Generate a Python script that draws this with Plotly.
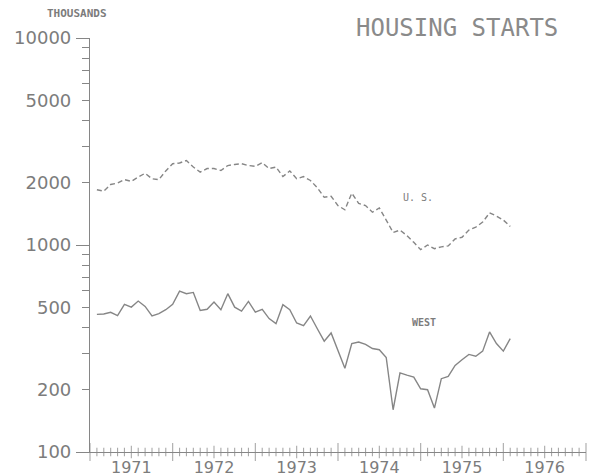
import plotly.graph_objects as go

# Monthly housing starts, seasonally adjusted annual rate (thousands), Jan 1971 - Jan 1976
MONTHS = [f"{1971 + i // 12}-{i % 12 + 1:02d}" for i in range(61)]

US_STARTS = [
    1850, 1820, 1960, 1990, 2070, 2030, 2130, 2220, 2090, 2070, 2280, 2470,
    2490, 2560, 2380, 2250, 2340, 2340, 2290, 2420, 2450, 2470, 2420, 2400,
    2500, 2340, 2380, 2140, 2280, 2090, 2140, 2050, 1890, 1700, 1720, 1550,
    1480, 1780, 1590, 1550, 1440, 1510, 1320, 1150, 1180, 1110, 1030, 950,
    1000, 960, 980, 990, 1070, 1090, 1180, 1220, 1290, 1430, 1380, 1320,
    1230,
]

WEST_STARTS = [
    462, 464, 473, 456, 517, 501, 536, 505, 454, 466, 487, 517,
    599, 582, 590, 483, 489, 530, 487, 582, 501, 479, 534, 474,
    489, 441, 417, 515, 487, 420, 408, 454, 394, 343, 376, 310,
    254, 334, 340, 331, 316, 312, 286, 160, 241, 235, 230, 202,
    200, 163, 226, 232, 262, 279, 296, 290, 307, 380, 334, 307,
    353,
]

YEARS = [1971, 1972, 1973, 1974, 1975, 1976]
Y_MAJOR = [100, 200, 500, 1000, 2000, 5000, 10000]
Y_MINOR = [300, 400, 600, 700, 800, 900, 3000, 4000, 6000, 7000, 8000, 9000]
Y_DECADES = [100, 1000, 10000]

INK = "#868686"
TEXT = "#7c7c7c"

# each month is plotted at the end of its own interval on a decimal-year axis
xpos = [int(m[:4]) + int(m[5:]) / 12 for m in MONTHS]

x_lo, x_hi = YEARS[0], YEARS[-1] + 1
n_months = 12 * (x_hi - x_lo)
half_years = [x_lo + h / 2 for h in range(2 * (x_hi - x_lo) + 1)]
half_text = [str(int(v)) if h % 2 == 1 else "" for h, v in enumerate(half_years)]

# time-axis tick marks cross the axis line: long at years, medium at half years,
# short at every month
tick_x, tick_size = [], []
for m in range(n_months + 1):
    tick_x.append(x_lo + m / 12)
    tick_size.append(13 if m % 12 == 0 else (9 if m % 6 == 0 else 6))

fig = go.Figure()

fig.add_trace(go.Scatter(
    x=xpos, y=US_STARTS, mode="lines", name="U. S.",
    line=dict(color=INK, width=1.4, dash="5px,3px"),
))
fig.add_trace(go.Scatter(
    x=xpos, y=WEST_STARTS, mode="lines", name="WEST",
    line=dict(color=INK, width=1.4),
))
fig.add_trace(go.Scatter(
    x=tick_x, y=[Y_MAJOR[0]] * len(tick_x), mode="markers",
    marker=dict(symbol="line-ns", size=tick_size,
                line=dict(color=INK, width=1.1)),
    cliponaxis=False, hoverinfo="skip", showlegend=False,
))

# empty trace so the overlaid decade-tick axis is drawn
fig.add_trace(go.Scatter(x=[None], y=[None], xaxis="x", yaxis="y2",
                         showlegend=False, hoverinfo="skip"))

tick_font_x = dict(family="DejaVu Sans", size=16, color=TEXT)
tick_font_y = dict(family="DejaVu Sans", size=18, color=TEXT)

fig.update_layout(
    width=590, height=476,
    margin=dict(l=90, r=4, t=38, b=24, autoexpand=False),
    paper_bgcolor="white", plot_bgcolor="white",
    showlegend=False,
    xaxis=dict(
        range=[x_lo, x_hi], fixedrange=True, automargin=False,
        showgrid=False, zeroline=False,
        showline=True, linecolor=INK, linewidth=1.2,
        tickmode="array", tickvals=half_years, ticktext=half_text,
        ticks="", ticklabelstandoff=1,
        tickfont=tick_font_x,
    ),
    yaxis=dict(
        type="log", range=[2, 4], fixedrange=True, automargin=False,
        showgrid=False, zeroline=False,
        showline=True, linecolor=INK, linewidth=1.2,
        tickmode="array", tickvals=Y_MAJOR, ticktext=[str(v) for v in Y_MAJOR],
        ticks="outside", ticklen=7, tickcolor=INK, tickwidth=1.2,
        ticklabelstandoff=7,
        tickfont=tick_font_y,
        minor=dict(tickmode="array", tickvals=Y_MINOR,
                   ticks="outside", ticklen=7, tickcolor=INK, tickwidth=1),
    ),
    yaxis2=dict(
        type="log", range=[2, 4], fixedrange=True, automargin=False,
        overlaying="y", anchor="x", side="left",
        showgrid=False, zeroline=False, showline=False, showticklabels=False,
        tickmode="array", tickvals=Y_DECADES,
        ticks="outside", ticklen=13, tickcolor=INK, tickwidth=1.2,
    ),
)

annotations = [
    dict(text="HOUSING STARTS", x=0.739, y=1.024, xref="paper", yref="paper",
         xanchor="center", yanchor="middle", showarrow=False,
         font=dict(family="DejaVu Sans Mono", size=24, color="#8a8a8a")),
    dict(text="<b>THOUSANDS</b>", x=-0.026, y=1.058, xref="paper", yref="paper",
         xanchor="center", yanchor="middle", showarrow=False,
         font=dict(family="DejaVu Sans Mono", size=11, color=TEXT)),
    dict(text="U. S.", x=0.662, y=0.614, xref="paper", yref="paper",
         xanchor="center", yanchor="middle", showarrow=False,
         font=dict(family="DejaVu Sans Mono", size=10, color=TEXT)),
    dict(text="<b>WEST</b>", x=0.673, y=0.313, xref="paper", yref="paper",
         xanchor="center", yanchor="middle", showarrow=False,
         font=dict(family="DejaVu Sans Mono", size=10, color=TEXT)),
]
fig.update_layout(annotations=annotations)

fig.write_html("out.html")
